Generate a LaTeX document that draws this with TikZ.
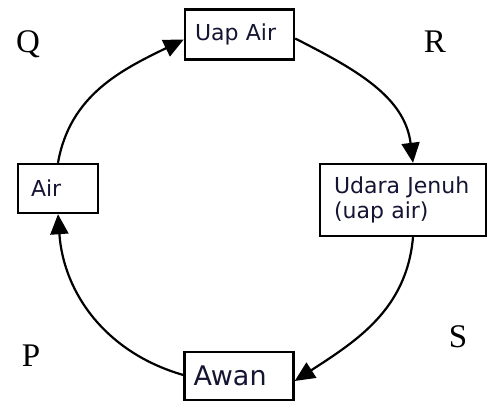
\documentclass[tikz,border=0pt]{standalone}
\usepackage{fontspec}
\setmainfont{Liberation Serif}
\newfontfamily\boxfont{DejaVu Sans}
\usetikzlibrary{arrows.meta}
\definecolor{txt}{rgb}{0.08,0.08,0.2}
\begin{document}
\begin{tikzpicture}[x=1pt,y=-1pt,
  box/.style={draw,line width=2.4pt,inner ysep=0pt,align=left,font=\boxfont\fontsize{22}{25}\selectfont,text=txt},
  lbl/.style={font=\fontsize{33}{35}\selectfont},
  conn/.style={line width=2.2pt,-{Triangle[length=20pt,width=18pt]}}]
\useasboundingbox (0,0) rectangle (488,403);
\fill[white] (0,0) rectangle (488,403);
\node[box,inner xsep=10pt,text width=89pt,minimum height=50pt] (uap) at (239.5,34.5) {Uap Air};
\node[box,inner xsep=13pt,text width=54pt,minimum height=49pt] (air) at (58,188.5) {Air};
\node[box,inner xsep=14pt,text width=138pt,minimum height=72pt] (udara) at (403,200) {Udara Jenuh\\(uap air)};
\node[box,inner xsep=9pt,text width=91pt,minimum height=48pt,font=\boxfont\fontsize{27}{29}\selectfont] (awan) at (239,376) {Awan};
\node[lbl] (q) at (28,44) {Q};
\node[lbl] (r) at (435,42) {R};
\node[lbl] (p) at (31,356) {P};
\node[lbl] (s) at (458,337) {S};
\draw[conn] (air.north) to[out=80,in=206] ([yshift=-5pt]uap.west);
\draw[conn] ([yshift=-4pt]uap.east) to[out=-27,in=97] ([xshift=10pt]udara.north);
\draw[conn] ([xshift=10pt]udara.south) to[out=-95,in=33] ([yshift=-5pt]awan.east);
\draw[conn] ([yshift=1pt]awan.west) to[out=164,in=-86] (air.south);
\end{tikzpicture}
\end{document}
